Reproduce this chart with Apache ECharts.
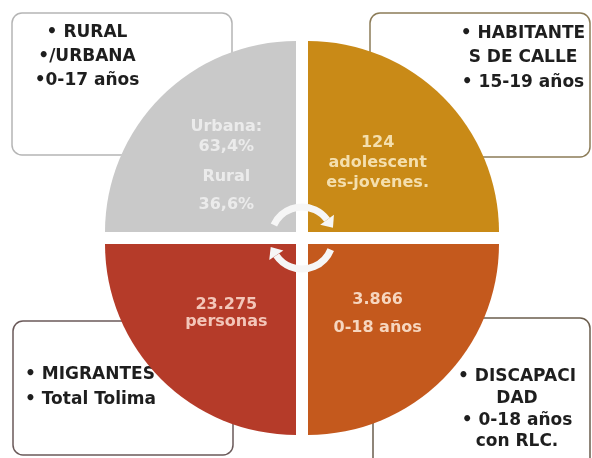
<!DOCTYPE html>
<html>
<head>
<meta charset="utf-8">
<script src="https://cdn.jsdelivr.net/npm/echarts@6/dist/echarts.min.js"></script>
<style>
    html, body { margin: 0; padding: 0; background: #fff; }
    #chart { width: 592px; height: 458px; }
</style>
</head>
<body>
<div id="chart"></div>
<script>
// cuadrantes en el orden del pie: desde arriba, sentido horario
var grupos = ['Habitantes de calle', 'Discapacidad', 'Migrantes', 'Rural/Urbana'];
var pesos = [1, 1, 1, 1];
var textoCuadrante = [
    ['124', 'adolescent', 'es-jovenes.'],
    ['3.866', '0-18 años'],
    ['23.275', 'personas'],
    ['Urbana:', '63,4%', 'Rural', '36,6%']
];
var textoCaja = [
    ['• HABITANTE', 'S DE CALLE', '• 15-19 años'],
    ['• DISCAPACI', 'DAD', '• 0-18 años', 'con RLC.'],
    ['• MIGRANTES', '• Total Tolima'],
    ['• RURAL', '•/URBANA', '•0-17 años']
];

// estilos
var colores = ['#c98a17', '#c4591d', '#b53b29', '#c9c9c9'];
var colorTexto = ['#f4dfae', '#f6d6bf', '#f3c6b9', '#ebebeb'];
var interlineado = [[20, 20, 20], [28, 28], [17, 17], [18, 22, 38, 18]];
var desplazamiento = [[6, -6], [6, 6], [-6, 6], [-6, -6]];
var cx = 302, cy = 238, radio = 191;

// cajas: x, y, ancho, alto, borde, alineacion del texto, x texto, y texto, interlineado
var cajas = [
    { rect: [370, 13, 220, 144], borde: '#8c7c58', align: 'center', tx: 523, ty: 21, lh: 24.5 },
    { rect: [373, 318, 217, 160], borde: '#6b5d4d', align: 'center', tx: 517, ty: 366, lh: 21.7 },
    { rect: [13, 321, 220, 134], borde: '#6b5a5a', align: 'left', tx: 25, ty: 362, lh: 25 },
    { rect: [12, 13, 220, 142], borde: '#b5b5b5', align: 'center', tx: 87, ty: 21, lh: 24 }
];

var chart = echarts.init(document.getElementById('chart'), null, { renderer: 'canvas' });

var series = grupos.map(function (g, k) {
    var rich = {};
    textoCuadrante[k].forEach(function (t, j) {
        rich['l' + j] = {
            lineHeight: interlineado[k][j],
            fontSize: 16,
            fontWeight: 'bold',
            fontFamily: 'DejaVu Sans',
            color: colorTexto[k],
            align: 'center'
        };
    });
    return {
        type: 'pie',
        center: [cx + desplazamiento[k][0], cy + desplazamiento[k][1]],
        radius: radio,
        startAngle: 90,
        clockwise: true,
        silent: true,
        animation: false,
        label: { show: false },
        labelLine: { show: false },
        data: grupos.map(function (name, i) {
            var item = { name: name, value: pesos[i] };
            if (i === k) {
                item.itemStyle = { color: colores[k] };
                item.label = {
                    show: true,
                    position: 'inside',
                    offset: k === 3 ? [0, 3] : [0, 0],
                    formatter: textoCuadrante[k].map(function (t, j) {
                        return '{l' + j + '|' + t + '}';
                    }).join('\n'),
                    rich: rich
                };
            } else {
                item.itemStyle = { color: 'rgba(0,0,0,0)' };
                item.label = { show: false };
            }
            return item;
        })
    };
});

var elementos = [];
cajas.forEach(function (c, k) {
    elementos.push({
        type: 'rect',
        z: 0,
        shape: { x: c.rect[0], y: c.rect[1], width: c.rect[2], height: c.rect[3], r: 10 },
        style: { fill: '#fff', stroke: c.borde, lineWidth: 1.5 }
    });
    elementos.push({
        type: 'text',
        z: 1,
        style: {
            text: textoCaja[k].join('\n'),
            x: c.tx,
            y: c.ty,
            textAlign: c.align,
            align: c.align,
            textVerticalAlign: 'top',
            verticalAlign: 'top',
            lineHeight: c.lh,
            font: 'bold 17px "DejaVu Sans"',
            fill: '#1e1e1e'
        }
    });
});

// flechas circulares del centro
var rFlecha = 31;
function punta(a) {
    var px = cx + rFlecha * Math.cos(a), py = cy + rFlecha * Math.sin(a);
    var tx = -Math.sin(a), ty = Math.cos(a);
    var nx = Math.cos(a), ny = Math.sin(a);
    return [[px + 10 * tx, py + 10 * ty], [px + 8.5 * nx, py + 8.5 * ny], [px - 8.5 * nx, py - 8.5 * ny]];
}
var rad = Math.PI / 180;
[[-155, -36], [22, 146]].forEach(function (a) {
    elementos.push({
        type: 'arc',
        z: 100,
        shape: { cx: cx, cy: cy, r: rFlecha, startAngle: a[0] * rad, endAngle: a[1] * rad, clockwise: true },
        style: { stroke: '#f6f6f6', lineWidth: 7, fill: null }
    });
    elementos.push({
        type: 'polygon',
        z: 100,
        shape: { points: punta(a[1] * rad) },
        style: { fill: '#f6f6f6' }
    });
});

chart.setOption({
    animation: false,
    tooltip: { show: false },
    graphic: { elements: elementos },
    series: series
});
</script>
</body>
</html>
